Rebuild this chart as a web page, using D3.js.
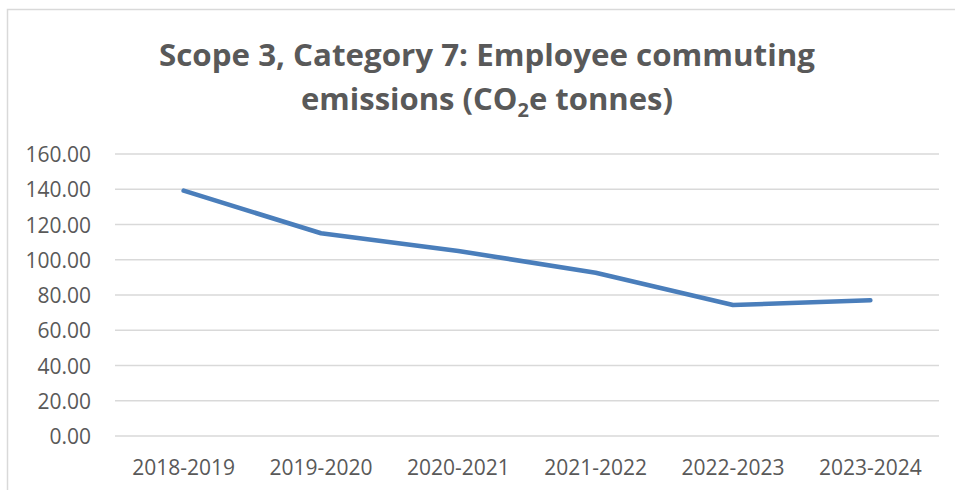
<!DOCTYPE html>
<meta charset="utf-8">
<style>
body { margin: 0; background: #fff; }
svg { display: block; font-family: "Open Sans", sans-serif; }
.grid line { stroke: #d9d9d9; stroke-width: 1.5; }
.tick text { fill: #595959; font-size: 21px; font-family: "Open Sans", sans-serif; }
</style>
<svg width="955" height="490"></svg>
<script src="https://d3js.org/d3.v7.min.js"></script>
<script>

var years = ["2018-2019", "2019-2020", "2020-2021", "2021-2022", "2022-2023", "2023-2024"];
var emissions = [139.2, 115.0, 105.0, 92.6, 74.3, 77.0];
var yTicks = [0, 20, 40, 60, 80, 100, 120, 140, 160];

var svg = d3.select("svg"),
    margin = {top: 154, right: 16, bottom: 54, left: 115},
    width = 955 - margin.left - margin.right,
    height = 490 - margin.top - margin.bottom;

// chart frame, cut off on the right and bottom like the screenshot
svg.append("rect")
    .attr("x", 7.5).attr("y", 9.5)
    .attr("width", 1200).attr("height", 1200)
    .attr("fill", "none")
    .attr("stroke", "#d9d9d9")
    .attr("stroke-width", 1.5);

var x = d3.scaleBand().domain(years).range([0, 824]),
    y = d3.scaleLinear().domain([0, 160]).range([282, 0]);

var g = svg.append("g")
    .attr("transform", "translate(" + margin.left + "," + margin.top + ")");

// gridlines
g.append("g")
    .attr("class", "grid")
    .selectAll("line")
    .data(yTicks)
    .enter()
    .append("line")
    .attr("x1", 0)
    .attr("x2", 824)
    .attr("y1", function(d) { return y(d); })
    .attr("y2", function(d) { return y(d); });

var yAxis = g.append("g")
    .call(d3.axisLeft(y).tickValues(yTicks).tickFormat(d3.format(".2f")).tickSize(0).tickPadding(24));
yAxis.select(".domain").remove();
yAxis.selectAll("text").attr("dy", "0.36em");

var xAxis = g.append("g")
    .attr("transform", "translate(0,282)")
    .call(d3.axisBottom(x).tickSize(0).tickPadding(0));
xAxis.select(".domain").remove();
xAxis.selectAll("text").attr("dy", null).attr("y", 39);

var line = d3.line()
    .x(function(d, i) { return x(years[i]) + x.bandwidth() / 2; })
    .y(function(d) { return y(d); });

g.append("path")
    .datum(emissions)
    .attr("d", line)
    .attr("fill", "none")
    .attr("stroke", "#4a7ebb")
    .attr("stroke-width", 4.6)
    .attr("stroke-linecap", "round")
    .attr("stroke-linejoin", "round");

// title
var title = svg.append("g")
    .attr("fill", "#595959")
    .attr("font-weight", "bold")
    .attr("font-size", "31px")
    .attr("text-anchor", "middle");

title.append("text")
    .attr("x", 487).attr("y", 66)
    .attr("textLength", 656)
    .attr("lengthAdjust", "spacingAndGlyphs")
    .text("Scope 3, Category 7: Employee commuting");

var t2 = title.append("text")
    .attr("x", 487).attr("y", 110)
    .attr("textLength", 372)
    .attr("lengthAdjust", "spacingAndGlyphs");
t2.append("tspan").text("emissions (CO");
t2.append("tspan").attr("font-size", "20px").attr("dy", 7).text("2");
t2.append("tspan").attr("dy", -7).text("e tonnes)");

</script>
